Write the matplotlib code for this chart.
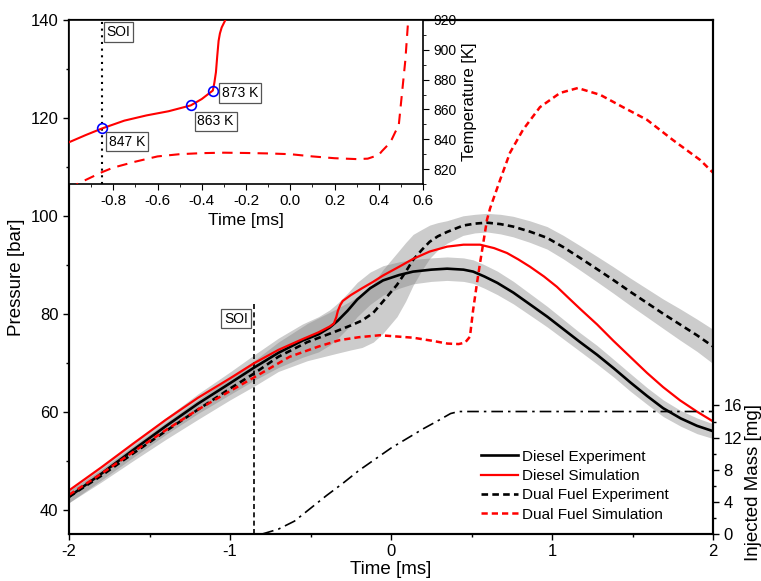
import matplotlib
matplotlib.use('Agg')
import matplotlib.pyplot as plt
from matplotlib.ticker import MultipleLocator, FormatStrFormatter
import numpy as np

plt.rcParams['font.family'] = ['Liberation Sans', 'DejaVu Sans']
plt.rcParams['axes.unicode_minus'] = False

# --- main plot data: pressure traces ---
t_d_exp = [-2.0, -1.8, -1.6, -1.4, -1.2, -1.0, -0.85, -0.7, -0.55, -0.45, -0.38, -0.33,
           -0.27, -0.21, -0.13, -0.05, 0.05, 0.137, 0.25, 0.348, 0.45, 0.51, 0.58, 0.66,
           0.76, 0.863, 0.97, 1.068, 1.17, 1.28, 1.385, 1.485, 1.59, 1.69, 1.80, 1.90, 2.0]
p_d_exp = [42.6, 47.3, 52.2, 57.0, 61.6, 65.8, 69.0, 72.0, 74.5, 75.8, 77.2, 78.6,
           80.6, 82.9, 85.2, 86.8, 87.9, 88.6, 89.0, 89.2, 89.0, 88.6, 87.6, 86.3,
           84.3, 81.9, 79.4, 76.9, 74.3, 71.6, 68.8, 66.0, 63.2, 60.7, 58.6, 57.1, 56.0]
band_d_exp = [1.2, 1.3, 1.5, 1.7, 2.0, 2.3, 2.6, 3.0, 3.4, 3.6, 3.6, 3.6,
              3.6, 3.5, 3.3, 3.0, 2.7, 2.5, 2.4, 2.4, 2.4, 2.4, 2.4, 2.4,
              2.3, 2.2, 2.1, 2.0, 1.9, 1.9, 1.8, 1.8, 1.7, 1.7, 1.6, 1.6, 1.5]

t_d_sim = [-2.0, -1.8, -1.6, -1.4, -1.2, -1.0, -0.85, -0.7, -0.55, -0.45, -0.38, -0.355,
           -0.34, -0.33, -0.315, -0.30, -0.25, -0.18, -0.112, -0.05, 0.056, 0.137, 0.24,
           0.348, 0.45, 0.553, 0.64, 0.72, 0.79, 0.863, 0.95, 1.03, 1.10, 1.174, 1.28,
           1.38, 1.485, 1.59, 1.69, 1.795, 1.9, 2.0]
p_d_sim = [43.9, 48.6, 53.5, 58.3, 62.8, 66.8, 69.9, 72.6, 74.8, 76.2, 77.4, 78.0,
           79.3, 80.6, 81.8, 82.6, 83.8, 85.2, 86.5, 87.8, 89.7, 91.2, 92.7,
           93.7, 94.1, 94.1, 93.4, 92.4, 91.1, 89.6, 87.6, 85.5, 83.3, 81.0, 77.8,
           74.5, 71.2, 67.9, 65.0, 62.3, 60.0, 58.0]

t_df_exp = [-2.0, -1.8, -1.6, -1.4, -1.2, -1.0, -0.85, -0.7, -0.52, -0.35, -0.25, -0.18,
            -0.11, -0.05, 0.037, 0.09, 0.137, 0.19, 0.24, 0.29, 0.348, 0.447, 0.52, 0.596,
            0.68, 0.758, 0.86, 0.969, 1.07, 1.174, 1.28, 1.38, 1.485, 1.59, 1.69, 1.795,
            1.9, 2.0]
p_df_exp = [42.6, 46.9, 51.5, 56.0, 60.4, 64.7, 67.8, 71.2, 74.2, 76.3, 77.6, 78.6,
            80.2, 82.5, 85.9, 88.5, 91.0, 93.0, 94.7, 95.8, 96.7, 98.0, 98.4, 98.6,
            98.3, 97.8, 96.8, 95.5, 93.6, 91.4, 89.1, 86.9, 84.5, 82.2, 80.0, 77.8,
            75.6, 73.3]
band_df_exp = [1.2, 1.3, 1.5, 1.7, 2.0, 2.3, 2.6, 3.0, 3.8, 4.5, 5.0, 5.5,
               6.0, 6.5, 6.5, 6.0, 5.2, 4.2, 3.4, 2.8, 2.3, 2.0, 1.9, 1.9,
               2.0, 2.1, 2.2, 2.3, 2.4, 2.5, 2.6, 2.7, 2.8, 2.9, 3.0, 3.2,
               3.3, 3.5]

t_df_sim = [-2.0, -1.8, -1.6, -1.4, -1.2, -1.0, -0.85, -0.63, -0.45, -0.32, -0.2, -0.07,
            0.137, 0.25, 0.35, 0.42, 0.46, 0.49, 0.51, 0.534, 0.553, 0.596, 0.615, 0.634,
            0.677, 0.739, 0.82, 0.925, 1.05, 1.16, 1.30, 1.44, 1.59, 1.75, 1.92, 2.0]
p_df_sim = [43.0, 47.3, 51.8, 56.2, 60.4, 64.2, 67.0, 71.2, 73.3, 74.6, 75.2, 75.6,
            75.1, 74.5, 73.9, 73.8, 74.1, 75.3, 80.8, 86.3, 90.4, 99.2, 101.5, 103.3,
            107.3, 112.9, 117.6, 122.2, 125.1, 126.1, 124.7, 122.2, 119.6, 115.5, 111.4, 108.8]

# injected mass
t_mass = [-0.80, -0.70, -0.60, -0.50, -0.40, -0.30, -0.20, -0.10, 0.0, 0.10, 0.20, 0.30,
          0.37, 0.42, 2.0]
m_mass = [0.0, 0.6, 1.6, 3.2, 4.8, 6.3, 7.9, 9.3, 10.7, 11.9, 13.1, 14.2,
          15.0, 15.25, 15.25]

soi = -0.85

# --- inset data: temperature ---
t_T_d = [-1.0, -0.925, -0.85, -0.75, -0.65, -0.55, -0.45, -0.4, -0.35, -0.343, -0.336,
         -0.33, -0.324, -0.318, -0.31, -0.30, -0.29, -0.28]
T_d = [838.0, 842.8, 847.3, 852.5, 856.0, 858.8, 862.7, 867.0, 872.7, 878.0, 885.0,
       896.0, 906.0, 911.0, 915.0, 918.0, 921.0, 925.0]

t_T_df = [-1.0, -0.935, -0.85, -0.8, -0.7, -0.6, -0.5, -0.4, -0.3, -0.2, -0.1, 0.0, 0.1,
          0.2, 0.3, 0.35, 0.40, 0.414, 0.44, 0.459, 0.475, 0.49, 0.505, 0.52, 0.532, 0.54]
T_df = [807, 812, 818, 821, 825, 828.5, 830, 830.7, 831, 830.8, 830.5, 830, 828.5,
        827.3, 826.7, 827, 829.5, 832, 836, 840, 845, 849, 871, 893, 918, 935]

marker_t = [-0.85, -0.45, -0.35]
marker_T = [847.3, 862.7, 872.7]
marker_labels = ['847 K', '863 K', '873 K']
label_pos = [(-0.82, 838.5), (-0.42, 852.0), (-0.31, 871.0)]

fig = plt.figure(figsize=(7.61, 5.81), dpi=100)
ax = fig.add_axes([0.0907, 0.0809, 0.8463, 0.8847])

box = dict(boxstyle='square,pad=0.2', fc='white', ec='#555555', lw=0.9)

# uncertainty bands
ax.fill_between(t_d_exp, np.array(p_d_exp) - band_d_exp, np.array(p_d_exp) + band_d_exp,
                color='gray', alpha=0.4, lw=0, zorder=1)
ax.fill_between(t_df_exp, np.array(p_df_exp) - band_df_exp, np.array(p_df_exp) + band_df_exp,
                color='gray', alpha=0.4, lw=0, zorder=1)

l1, = ax.plot(t_d_exp, p_d_exp, color='black', lw=1.9, label='Diesel Experiment', zorder=3)
l2, = ax.plot(t_d_sim, p_d_sim, color='red', lw=1.6, label='Diesel Simulation', zorder=4)
l3, = ax.plot(t_df_exp, p_df_exp, color='black', lw=1.9, dashes=(2.5, 1.6),
              label='Dual Fuel Experiment', zorder=3)
l4, = ax.plot(t_df_sim, p_df_sim, color='red', lw=1.8, dashes=(2.5, 1.6),
              label='Dual Fuel Simulation', zorder=4)

ax.plot([soi, soi], [35, 82.5], color='black', lw=1.2, dashes=(3, 2), zorder=2)
ax.text(-0.89, 79.0, 'SOI', ha='right', va='center', fontsize=10, bbox=box, zorder=5)

ax.set_xlim(-2, 2)
ax.set_ylim(35, 140)
ax.xaxis.set_major_locator(MultipleLocator(1))
ax.xaxis.set_minor_locator(MultipleLocator(0.5))
ax.yaxis.set_major_locator(MultipleLocator(20))
ax.yaxis.set_minor_locator(MultipleLocator(10))
ax.tick_params(which='major', length=4, width=1, labelsize=12, direction='out')
ax.tick_params(which='minor', length=2, width=1, direction='out')
ax.set_xlabel('Time [ms]', fontsize=13.5, labelpad=1)
ax.set_ylabel('Pressure [bar]', fontsize=13.5, labelpad=4)
for s in ax.spines.values():
    s.set_linewidth(1.5)

# injected mass on secondary axis
ax2 = ax.twinx()
ax2.plot(t_mass, m_mass, color='black', lw=1.2, dashes=(7, 3, 1.5, 3))
ax2.set_ylim(0, 64)
ax2.set_yticks([0, 4, 8, 12, 16])
ax2.set_yticks([2, 6, 10, 14], minor=True)
ax2.tick_params(which='major', length=4, width=1, labelsize=12, direction='out')
ax2.tick_params(which='minor', length=2, width=1, direction='out')
ax2.set_ylabel('Injected Mass [mg]', fontsize=13.5)
ax2.yaxis.set_label_coords(1.05, 0.1)
for s in ax2.spines.values():
    s.set_linewidth(1.5)

ax2.legend(handles=[l1, l2, l3, l4], loc='upper left', bbox_to_anchor=(0.63, 0.176),
           frameon=False, fontsize=11, handlelength=2.4, handletextpad=0.3,
           labelspacing=0.35, borderaxespad=0)

# inset: temperature near SOI
axi = fig.add_axes([0.0907, 0.6833, 0.4652, 0.2823])
axi.set_facecolor('white')
axi.plot(t_T_d, T_d, color='red', lw=1.5, zorder=3)
axi.plot(t_T_df, T_df, color='red', lw=1.5, dashes=(5, 3.5), zorder=3)
axi.plot(marker_t, marker_T, 'o', mfc='none', mec='blue', ms=7, mew=1.2, zorder=4)
for (x, y), s in zip(label_pos, marker_labels):
    axi.text(x, y, s, ha='left', va='center', fontsize=10, bbox=box, zorder=5)
axi.axvline(soi, color='black', lw=1.5, ls=(0, (1, 2.2)), zorder=2)
axi.text(-0.83, 912, 'SOI', ha='left', va='center', fontsize=10, bbox=box, zorder=5)

axi.set_xlim(-1.0, 0.6)
axi.set_ylim(810, 920)
axi.set_xticks([-0.8, -0.6, -0.4, -0.2, 0.0, 0.2, 0.4, 0.6])
axi.xaxis.set_minor_locator(MultipleLocator(0.1))
axi.xaxis.set_major_formatter(FormatStrFormatter('%.1f'))
axi.yaxis.tick_right()
axi.yaxis.set_label_position('right')
axi.yaxis.set_major_locator(MultipleLocator(20))
axi.yaxis.set_minor_locator(MultipleLocator(10))
axi.tick_params(axis='x', which='major', length=4, labelsize=11, direction='out')
axi.tick_params(axis='y', which='major', length=4, labelsize=10, direction='out')
axi.tick_params(which='minor', length=2, direction='out')
axi.set_xlabel('Time [ms]', fontsize=12.5, labelpad=3)
axi.set_ylabel('Temperature [K]', fontsize=12)
for s in axi.spines.values():
    s.set_linewidth(1.2)

fig.savefig('out.png', dpi=100)
